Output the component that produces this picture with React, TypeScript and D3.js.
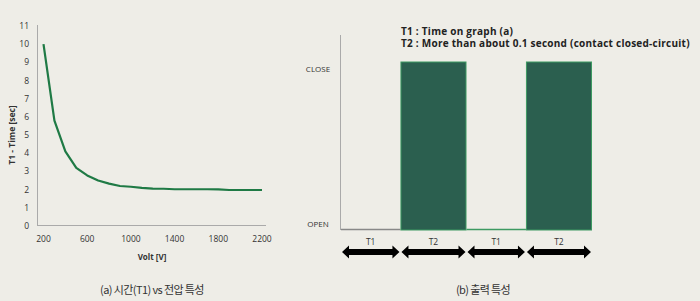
import React from "react";
import * as d3 from "d3";

const volts = [200, 300, 400, 500, 600, 700, 800, 900, 1000, 1100, 1200, 1300, 1400, 1500, 1600, 1700, 1800, 1900, 2000, 2100, 2200];
const times = [10, 5.8, 4.1, 3.2, 2.78, 2.5, 2.33, 2.2, 2.16, 2.1, 2.06, 2.05, 2.02, 2.02, 2.02, 2.02, 2.01, 1.98, 1.98, 1.98, 1.98];
const yTicks = [0, 1, 2, 3, 4, 5, 6, 7, 8, 9, 10, 11];
const xTicks = [200, 600, 1000, 1400, 1800, 2200];

const segLabels = ["T1", "T2", "T1", "T2"];
const segStates = ["OPEN", "CLOSE", "OPEN", "CLOSE"];
const segDurations = [0.9, 1, 0.9, 1];
const stateLevels = ["OPEN", "CLOSE"];
const notes = ["T1 : Time on graph (a)", "T2 : More than about 0.1 second (contact closed-circuit)"];
const captions = ["(a) 시간(T1) vs 전압 특성", "(b) 출력 특성"];

const BG = "#eeede7";
const TXT = "#333";
const FONT = "'Open Sans', 'Liberation Sans', sans-serif";
const KFONT = "'Noto Sans CJK KR', sans-serif";

export default function App() {
  // left chart
  const x = d3.scaleLinear().domain([200, 2200]).range([43.5, 262]);
  const y = d3.scaleLinear().domain([0, 11]).range([226, 26]);
  const line = d3
    .line<number>()
    .x((_, i) => x(volts[i]))
    .y((d) => y(d))
    .curve(d3.curveLinear);

  // right chart
  const bounds = [0];
  segDurations.forEach((d) => bounds.push(bounds[bounds.length - 1] + d));
  const tx = d3.scaleLinear().domain([0, bounds[bounds.length - 1]]).range([341, 592]);
  const sy = d3.scalePoint<string>().domain(stateLevels).range([230, 62]);

  const arrowY = 252;
  const arrowPath = (x0: number, x1: number) => {
    const h = 6.5;
    const s = 3;
    const hl = 7;
    return `M${x0},${arrowY} L${x0 + hl},${arrowY - h} L${x0 + hl},${arrowY - s} L${x1 - hl},${arrowY - s} L${x1 - hl},${arrowY - h} L${x1},${arrowY} L${x1 - hl},${arrowY + h} L${x1 - hl},${arrowY + s} L${x0 + hl},${arrowY + s} L${x0 + hl},${arrowY + h} Z`;
  };

  return (
    <svg
      width={700}
      height={301}
      style={{ position: "absolute", left: 0, top: 0, background: BG }}
    >
      <rect x={0} y={0} width={700} height={301} fill={BG} />
      {/* Left chart axes */}
      <line x1={37.5} x2={37.5} y1={25} y2={226} stroke="#aaa" strokeWidth={1} />
      <line x1={37} x2={266} y1={225.5} y2={225.5} stroke="#aaa" strokeWidth={1} />
      {yTicks.map((t) => (
        <text key={t} x={29} y={y(t)} dy="0.35em" textAnchor="end" fontSize={8.5} fill={TXT} fontFamily={FONT}>
          {t}
        </text>
      ))}
      {xTicks.map((t) => (
        <text key={t} x={x(t)} y={239} dy="0.35em" textAnchor="middle" fontSize={8.5} fill={TXT} fontFamily={FONT}>
          {t}
        </text>
      ))}
      <text
        transform={`translate(12,135) rotate(-90)`}
        textAnchor="middle"
        dy="0.35em"
        fontSize={8.5}
        fontWeight="bold"
        fill={TXT}
        fontFamily={FONT}
      >
        T1 - Time [sec]
      </text>
      <text x={152} y={257} dy="0.35em" textAnchor="middle" fontSize={8} fontWeight="bold" fill={TXT} fontFamily={FONT}>
        Volt [V]
      </text>
      <path d={line(times) || ""} fill="none" stroke="#1f7a45" strokeWidth={2.2} strokeLinejoin="round" />

      {/* Right chart */}
      <line x1={340.5} x2={340.5} y1={35} y2={230} stroke="#aaa" strokeWidth={1} />
      {stateLevels.map((s) => (
        <text key={s} x={318} y={(sy(s) as number) + (s === "OPEN" ? -6 : 7)} dy="0.35em" textAnchor="middle" fontSize={8} fill={TXT} fontFamily={FONT}>
          {s}
        </text>
      ))}
      {notes.map((n, i) => (
        <text key={i} x={401} y={31 + i * 12.5} dy="0.35em" fontSize={10} fontWeight="bold" fill="#222" fontFamily={FONT} letterSpacing={0.25}>
          {n}
        </text>
      ))}
      {segStates.map((s, i) => {
        const x0 = tx(bounds[i]);
        const x1 = tx(bounds[i + 1]);
        if (s === "CLOSE") {
          return (
            <rect
              key={i}
              x={x0 + 0.5}
              y={sy("CLOSE") as number}
              width={x1 - x0 - 1}
              height={(sy("OPEN") as number) - (sy("CLOSE") as number)}
              fill="#2b5f4f"
              stroke="#3d9a62"
              strokeWidth={1}
            />
          );
        }
        return (
          <line
            key={i}
            x1={x0}
            x2={x1}
            y1={(sy("OPEN") as number) - 0.5}
            y2={(sy("OPEN") as number) - 0.5}
            stroke={i === 0 ? "#888" : "#3d9a62"}
            strokeWidth={1.5}
          />
        );
      })}
      {segLabels.map((l, i) => {
        const x0 = tx(bounds[i]);
        const x1 = tx(bounds[i + 1]);
        return (
          <g key={i}>
            <text x={(x0 + x1) / 2} y={242} dy="0.35em" textAnchor="middle" fontSize={8.5} fill={TXT} fontFamily={FONT}>
              {l}
            </text>
            <path d={arrowPath(x0 + 1, x1 - 1)} fill="#000" />
          </g>
        );
      })}

      {/* captions */}
      <text x={152} y={290} dy="0.35em" textAnchor="middle" fontSize={11} fill={TXT} fontFamily={KFONT} letterSpacing={-0.6}>
        {captions[0]}
      </text>
      <text x={483} y={290} dy="0.35em" textAnchor="middle" fontSize={11} fill={TXT} fontFamily={KFONT} letterSpacing={-0.6}>
        {captions[1]}
      </text>
    </svg>
  );
}
